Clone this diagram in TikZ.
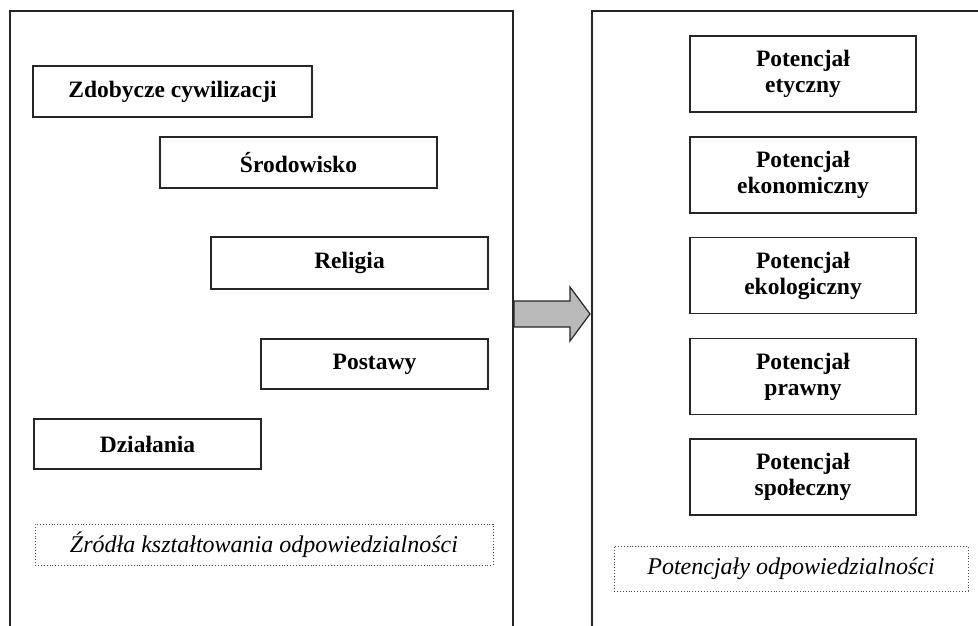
\documentclass[tikz,border=0pt]{standalone}
\usepackage{fontspec}
\setmainfont{Liberation Serif}
\begin{document}
\begin{tikzpicture}[x=1pt,y=-1pt,
  panel/.style={line width=2pt,draw=black!85},
  src/.style={draw=black!85,line width=1.6pt,inner sep=0pt,minimum height=51pt,font=\fontsize{23.5}{26}\selectfont\bfseries},
  pot/.style={draw=black!85,line width=1.6pt,inner sep=0pt,minimum width=226pt,minimum height=76pt,align=center,font=\fontsize{23.5}{26}\selectfont\bfseries},
  captionbox/.style={draw=black!70,dotted,line width=0.9pt,inner sep=0pt,font=\fontsize{24}{26}\selectfont\itshape}]
\useasboundingbox (0,0) rectangle (978,626);
% panels
\coordinate (lpbl) at (10,626);
\coordinate (lptl) at (10,11);
\coordinate (lptr) at (513,11);
\coordinate (lpbr) at (513,626);
\coordinate (rpbl) at (592,626);
\coordinate (rptl) at (592,11);
\coordinate (rptr) at (978,11);
\draw[panel] (lpbl) -- (lptl) -- (lptr) -- (lpbr);
\draw[panel] (rpbl) -- (rptl) -- (rptr);
% left boxes
\node[src,minimum width=279pt] (zdob) at (172.5,91.5) {Zdobycze cywilizacji};
\node[src,minimum width=277pt] (srod) at (298.5,162.5) {Środowisko};
\node[src,minimum width=277pt,minimum height=52pt] (relig) at (349.5,263) {Religia};
\node[src,minimum width=227pt,minimum height=50pt] (post) at (374.5,364) {Postawy};
\node[src,minimum width=227pt,minimum height=50pt] (dzial) at (147.5,444) {Działania};
\node[captionbox,minimum width=458pt,minimum height=41pt] (lcap) at (264,544.5) {Źródła kształtowania odpowiedzialności};
% right boxes
\node[pot] (p1) at (803,74) {Potencjał\\etyczny};
\node[pot] (p2) at (803,175) {Potencjał\\ekonomiczny};
\node[pot] (p3) at (803,275.5) {Potencjał\\ekologiczny};
\node[pot] (p4) at (803,376.5) {Potencjał\\prawny};
\node[pot] (p5) at (803,477) {Potencjał\\społeczny};
\node[captionbox,minimum width=354pt,minimum height=45pt] (rcap) at (791,568.5) {Potencjały odpowiedzialności};
% block arrow
\draw[fill=gray!55,draw=black!85,line width=1.2pt,line join=miter]
  (514,301) -- (570,301) -- (570,287) -- (590,314) -- (570,341) -- (570,327) -- (514,327) -- cycle;
\end{tikzpicture}
\end{document}
